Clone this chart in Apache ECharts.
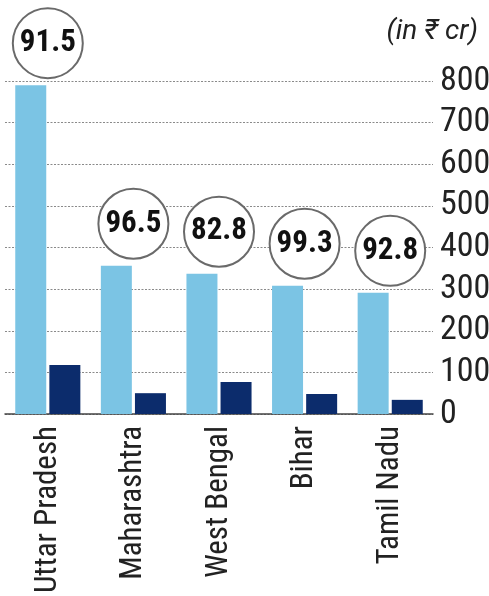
<!DOCTYPE html>
<html>
<head>
<meta charset="utf-8">
<script src="https://cdn.jsdelivr.net/npm/echarts@6/dist/echarts.min.js"></script>
<style>
  html, body { margin: 0; padding: 0; background: #fff; }
  #chart { width: 489px; height: 596px; }
</style>
</head>
<body>
<div id="chart"></div>
<script>
// States, in bar order
const states = ['Uttar Pradesh', 'Maharashtra', 'West Bengal', 'Bihar', 'Tamil Nadu'];
// Light bars (in ₹ cr)
const lightValues = [790, 356, 337, 308, 291];
// Dark bars (in ₹ cr)
const darkValues = [118, 50, 77, 48, 34];
// Figures shown in the circles above each state
const circleValues = [91.5, 96.5, 82.8, 99.3, 92.8];
// Value axis ticks
const yTicks = [0, 100, 200, 300, 400, 500, 600, 700, 800];

const FONT = '"Roboto Condensed", "Liberation Sans Narrow", "Liberation Sans", sans-serif';
const chart = echarts.init(document.getElementById('chart'), null, { renderer: 'canvas' });

chart.setOption({
  animation: false,
  backgroundColor: '#ffffff',
  title: {
    text: '(in ₹ cr)',
    right: 6,
    top: 13,
    textStyle: { fontFamily: 'Roboto, sans-serif', fontStyle: 'italic', fontWeight: 'normal', fontSize: 28, color: '#222' }
  },
  grid: { left: 5, right: 56, top: 81, bottom: 182, outerBoundsMode: 'none', containLabel: false },
  xAxis: {
    type: 'category',
    data: states,
    axisLine: { lineStyle: { color: '#444', width: 1.5 } },
    axisTick: { show: false },
    axisLabel: {
      rotate: 90,
      margin: 12,
      fontFamily: FONT,
      fontSize: 31,
      color: '#222'
    }
  },
  yAxis: {
    type: 'value',
    position: 'right',
    min: yTicks[0],
    max: yTicks[yTicks.length - 1],
    interval: yTicks[1] - yTicks[0],
    axisLine: { show: false },
    axisTick: { show: false },
    axisLabel: { margin: 7, fontFamily: FONT, fontSize: 34, color: '#222' },
    splitLine: { lineStyle: { type: [2, 1.5], color: '#8a8a8a', width: 1.2 } }
  },
  series: [
    {
      type: 'bar',
      data: lightValues,
      barWidth: 31,
      barGap: '10%',
      itemStyle: { color: '#7bc4e4' },
      z: 2
    },
    {
      type: 'bar',
      data: darkValues,
      barWidth: 31,
      itemStyle: { color: '#0c2c6c' },
      z: 2
    },
    {
      type: 'scatter',
      data: lightValues.map((v, i) => [i, v]),
      symbol: 'circle',
      symbolSize: 70,
      symbolOffset: [0, -42],
      itemStyle: { color: '#ffffff', borderColor: '#6a6a6a', borderWidth: 2, opacity: 1 },
      label: {
        show: true,
        position: 'inside',
        formatter: (p) => circleValues[p.dataIndex].toFixed(1),
        fontFamily: FONT,
        fontWeight: 'bold',
        fontSize: 31,
        color: '#111'
      },
      z: 5
    }
  ]
});
</script>
</body>
</html>
